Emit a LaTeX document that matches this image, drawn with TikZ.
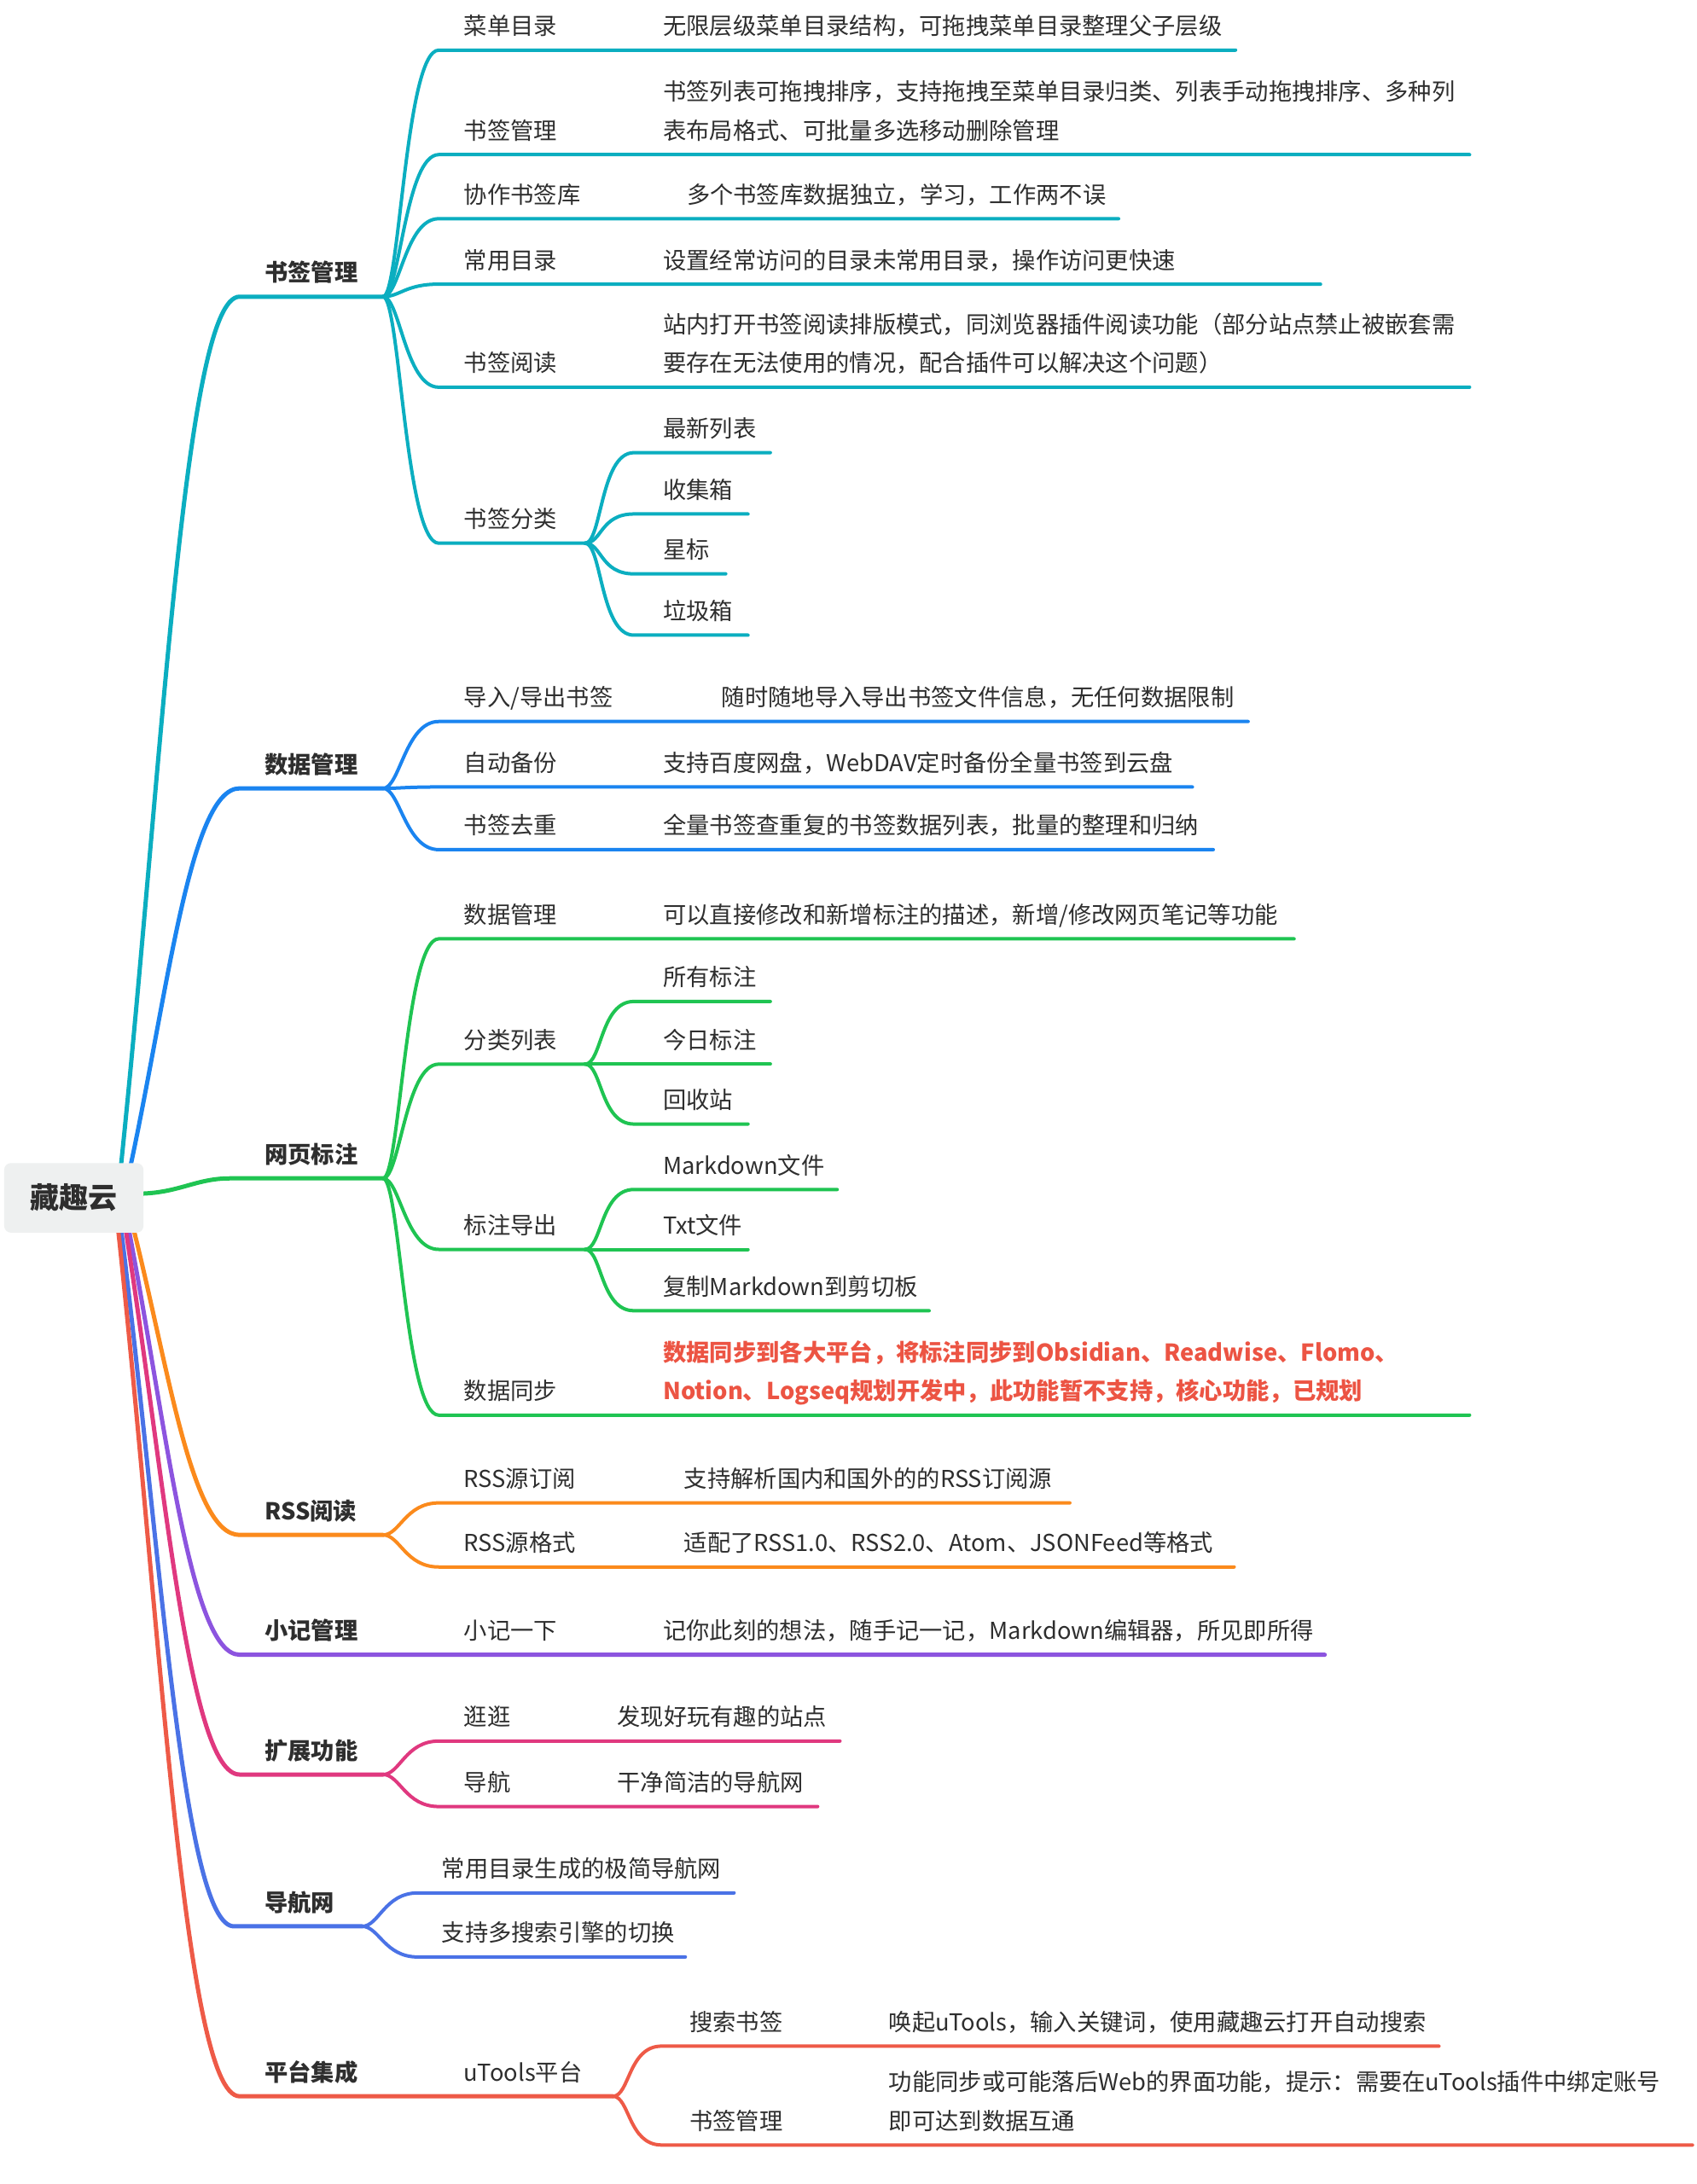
\documentclass[tikz,border=0pt]{standalone}
\usepackage{fontspec}
\setmainfont{Noto Sans CJK SC}
\usetikzlibrary{calc}
\definecolor{cTeal}{HTML}{0BAEC0}
\definecolor{cBlue}{HTML}{1A84F0}
\definecolor{cGreen}{HTML}{1FC452}
\definecolor{cOrange}{HTML}{FB8A1C}
\definecolor{cPurple}{HTML}{8C54DF}
\definecolor{cPink}{HTML}{E0387F}
\definecolor{cRoyal}{HTML}{4A72E6}
\definecolor{cRed}{HTML}{EE5A47}
\definecolor{txt}{HTML}{2E2E2E}
\definecolor{redtxt}{HTML}{EC5443}
\definecolor{rootfill}{HTML}{EEF0F0}
\newcommand\kid[4]{\draw[br,#1] (#2) .. controls ($(#2)+(12,0)$) and ($(#3)+(-24,0)$) .. (#3) -- (#4);}
\tikzset{
  lbl/.style={anchor=base west, inner sep=0pt, text=txt, font=\fontsize{27.3}{32}\selectfont},
  lone/.style={lbl, font=\fontsize{27.3}{32}\selectfont\bfseries},
  redl/.style={lbl, text=redtxt, font=\fontsize{27.3}{32}\selectfont\bfseries},
  br/.style={line width=4pt, line cap=round, line join=round},
  rootbr/.style={line width=5pt, line cap=round, line join=round},
}
\begin{document}
\begin{tikzpicture}[x=1.633pt,y=-1.633pt]
\useasboundingbox (0,0) rectangle (1218,1568);
\fill[white] (0,0) rectangle (1218,1568);

% ---------- coordinates ----------
\coordinate (r1) at (86,845);  \coordinate (L1s) at (172,213); \coordinate (h1) at (275,213);
\coordinate (r2) at (92,845);  \coordinate (L2s) at (172,566); \coordinate (h2) at (275,566);
\coordinate (r3) at (98,857);  \coordinate (L3s) at (165,846); \coordinate (h3) at (275,846);
\coordinate (r4) at (94,875);  \coordinate (L4s) at (172,1102); \coordinate (h4) at (275,1102);
\coordinate (r5) at (91,875);  \coordinate (L5s) at (172,1188); \coordinate (e5) at (951,1188);
\coordinate (r6) at (89,875);  \coordinate (L6s) at (172,1274); \coordinate (h6) at (275,1274);
\coordinate (r7) at (86,875);  \coordinate (L7s) at (168,1383); \coordinate (h7) at (260,1383);
\coordinate (r8) at (84,875);  \coordinate (L8s) at (172,1505); \coordinate (h8) at (440,1505);

% ---------- root branches ----------
\draw[rootbr,cTeal]   (r1) .. controls (116,560)  and (132,213)  .. (L1s) -- (h1);
\draw[rootbr,cBlue]   (r2) .. controls (120,717)  and (136,566)  .. (L2s) -- (h2);
\draw[rootbr,cGreen]  (r3) .. controls (128,857)  and (140,846)  .. (L3s) -- (h3);
\draw[rootbr,cOrange] (r4) .. controls (121,980)  and (137,1102) .. (L4s) -- (h4);
\draw[rootbr,cPurple] (r5) .. controls (119,1019) and (136,1188) .. (L5s) -- (e5);
\draw[rootbr,cPink]   (r6) .. controls (118,1057) and (135,1274) .. (L6s) -- (h6);
\draw[rootbr,cRoyal]  (r7) .. controls (115,1106) and (131,1383) .. (L7s) -- (h7);
\draw[rootbr,cRed]    (r8) .. controls (115,1161) and (132,1505) .. (L8s) -- (h8);

% ---------- root ----------
\node[fill=rootfill, rounded corners=8pt, minimum width=163.3pt, minimum height=81.6pt,
      inner sep=0pt, text=txt, font=\fontsize{34}{40}\selectfont\bfseries] (root) at (53,860) {藏趣云};

% ---------- 书签管理 ----------
\coordinate (a1s) at (315,36);  \coordinate (a1e) at (887,36);
\coordinate (a2s) at (315,111); \coordinate (a2e) at (1055,111);
\coordinate (a3s) at (315,157); \coordinate (a3e) at (803,157);
\coordinate (a4s) at (315,204); \coordinate (a4e) at (948,204);
\coordinate (a5s) at (315,278); \coordinate (a5e) at (1055,278);
\coordinate (a6s) at (315,390); \coordinate (h16) at (420,390);
\coordinate (a61s) at (455,325); \coordinate (a61e) at (553,325);
\coordinate (a62s) at (455,369); \coordinate (a62e) at (537,369);
\coordinate (a63s) at (455,412); \coordinate (a63e) at (521,412);
\coordinate (a64s) at (455,456); \coordinate (a64e) at (537,456);
\kid{cTeal}{h1}{a1s}{a1e}
\kid{cTeal}{h1}{a2s}{a2e}
\kid{cTeal}{h1}{a3s}{a3e}
\kid{cTeal}{h1}{a4s}{a4e}
\kid{cTeal}{h1}{a5s}{a5e}
\kid{cTeal}{h1}{a6s}{h16}
\kid{cTeal}{h16}{a61s}{a61e}
\kid{cTeal}{h16}{a62s}{a62e}
\kid{cTeal}{h16}{a63s}{a63e}
\kid{cTeal}{h16}{a64s}{a64e}

\node[lone] (l1) at (190,202) {书签管理};
\node[lbl] (n11) at (333,25) {菜单目录};
\node[lbl] (d11) at (476,25) {无限层级菜单目录结构，可拖拽菜单目录整理父子层级};
\node[lbl] (n12) at (333,100) {书签管理};
\node[lbl] (d12a) at (476,72) {书签列表可拖拽排序，支持拖拽至菜单目录归类、列表手动拖拽排序、多种列};
\node[lbl] (d12b) at (476,100) {表布局格式、可批量多选移动删除管理};
\node[lbl] (n13) at (333,146) {协作书签库};
\node[lbl] (d13) at (493,146) {多个书签库数据独立，学习，工作两不误};
\node[lbl] (n14) at (333,193) {常用目录};
\node[lbl] (d14) at (476,193) {设置经常访问的目录未常用目录，操作访问更快速};
\node[lbl] (n15) at (333,267) {书签阅读};
\node[lbl] (d15a) at (476,239) {站内打开书签阅读排版模式，同浏览器插件阅读功能（部分站点禁止被嵌套需};
\node[lbl] (d15b) at (476,267) {要存在无法使用的情况，配合插件可以解决这个问题）};
\node[lbl] (n16) at (333,379) {书签分类};
\node[lbl] (n161) at (476,314) {最新列表};
\node[lbl] (n162) at (476,358) {收集箱};
\node[lbl] (n163) at (476,401) {星标};
\node[lbl] (n164) at (476,445) {垃圾箱};

% ---------- 数据管理 ----------
\coordinate (b1s) at (315,518); \coordinate (b1e) at (896,518);
\coordinate (b2s) at (315,565); \coordinate (b2e) at (856,565);
\coordinate (b3s) at (315,610); \coordinate (b3e) at (871,610);
\kid{cBlue}{h2}{b1s}{b1e}
\kid{cBlue}{h2}{b2s}{b2e}
\kid{cBlue}{h2}{b3s}{b3e}
\node[lone] (l2) at (190,555) {数据管理};
\node[lbl] (n21) at (333,507) {导入/导出书签};
\node[lbl] (d21) at (518,507) {随时随地导入导出书签文件信息，无任何数据限制};
\node[lbl] (n22) at (333,554) {自动备份};
\node[lbl] (d22) at (476,554) {支持百度网盘，WebDAV定时备份全量书签到云盘};
\node[lbl] (n23) at (333,599) {书签去重};
\node[lbl] (d23) at (476,599) {全量书签查重复的书签数据列表，批量的整理和归纳};

% ---------- 网页标注 ----------
\coordinate (c1s) at (315,674); \coordinate (c1e) at (929,674);
\coordinate (c2s) at (315,764); \coordinate (h32) at (420,764);
\coordinate (c21s) at (455,719); \coordinate (c21e) at (553,719);
\coordinate (c22s) at (455,764); \coordinate (c22e) at (553,764);
\coordinate (c23s) at (455,807); \coordinate (c23e) at (537,807);
\coordinate (c3s) at (315,897); \coordinate (h33) at (420,897);
\coordinate (c31s) at (455,854); \coordinate (c31e) at (601,854);
\coordinate (c32s) at (455,897); \coordinate (c32e) at (537,897);
\coordinate (c33s) at (455,941); \coordinate (c33e) at (667,941);
\coordinate (c4s) at (315,1016); \coordinate (c4e) at (1055,1016);
\kid{cGreen}{h3}{c1s}{c1e}
\kid{cGreen}{h3}{c2s}{h32}
\kid{cGreen}{h32}{c21s}{c21e}
\kid{cGreen}{h32}{c22s}{c22e}
\kid{cGreen}{h32}{c23s}{c23e}
\kid{cGreen}{h3}{c3s}{h33}
\kid{cGreen}{h33}{c31s}{c31e}
\kid{cGreen}{h33}{c32s}{c32e}
\kid{cGreen}{h33}{c33s}{c33e}
\kid{cGreen}{h3}{c4s}{c4e}
\node[lone] (l3) at (190,835) {网页标注};
\node[lbl] (n31) at (333,663) {数据管理};
\node[lbl] (d31) at (476,663) {可以直接修改和新增标注的描述，新增/修改网页笔记等功能};
\node[lbl] (n32) at (333,753) {分类列表};
\node[lbl] (n321) at (476,708) {所有标注};
\node[lbl] (n322) at (476,753) {今日标注};
\node[lbl] (n323) at (476,796) {回收站};
\node[lbl] (n33) at (333,886) {标注导出};
\node[lbl] (n331) at (476,843) {Markdown文件};
\node[lbl] (n332) at (476,886) {Txt文件};
\node[lbl] (n333) at (476,930) {复制Markdown到剪切板};
\node[lbl] (n34) at (333,1005) {数据同步};
\node[redl] (d34a) at (476,977) {数据同步到各大平台，将标注同步到Obsidian、Readwise、Flomo、};
\node[redl] (d34b) at (476,1005) {Notion、Logseq规划开发中，此功能暂不支持，核心功能，已规划};

% ---------- RSS阅读 ----------
\coordinate (d1s) at (315,1079); \coordinate (d1e) at (768,1079);
\coordinate (d2s) at (315,1125); \coordinate (d2e) at (886,1125);
\kid{cOrange}{h4}{d1s}{d1e}
\kid{cOrange}{h4}{d2s}{d2e}
\node[lone] (l4) at (190,1091) {RSS阅读};
\node[lbl] (n41) at (333,1068) {RSS源订阅};
\node[lbl] (d41) at (491,1068) {支持解析国内和国外的的RSS订阅源};
\node[lbl] (n42) at (333,1114) {RSS源格式};
\node[lbl] (d42) at (491,1114) {适配了RSS1.0、RSS2.0、Atom、JSONFeed等格式};

% ---------- 小记管理 ----------
\node[lone] (l5) at (190,1177) {小记管理};
\node[lbl] (n51) at (333,1177) {小记一下};
\node[lbl] (d51) at (476,1177) {记你此刻的想法，随手记一记，Markdown编辑器，所见即所得};

% ---------- 扩展功能 ----------
\coordinate (f1s) at (315,1250); \coordinate (f1e) at (603,1250);
\coordinate (f2s) at (315,1297); \coordinate (f2e) at (587,1297);
\kid{cPink}{h6}{f1s}{f1e}
\kid{cPink}{h6}{f2s}{f2e}
\node[lone] (l6) at (190,1263) {扩展功能};
\node[lbl] (n61) at (333,1239) {逛逛};
\node[lbl] (d61) at (443,1239) {发现好玩有趣的站点};
\node[lbl] (n62) at (333,1286) {导航};
\node[lbl] (d62) at (443,1286) {干净简洁的导航网};

% ---------- 导航网 ----------
\coordinate (g1s) at (300,1359); \coordinate (g1e) at (527,1359);
\coordinate (g2s) at (300,1405); \coordinate (g2e) at (492,1405);
\kid{cRoyal}{h7}{g1s}{g1e}
\kid{cRoyal}{h7}{g2s}{g2e}
\node[lone] (l7) at (190,1372) {导航网};
\node[lbl] (n71) at (317,1348) {常用目录生成的极简导航网};
\node[lbl] (n72) at (317,1394) {支持多搜索引擎的切换};

% ---------- 平台集成 ----------
\coordinate (p1s) at (475,1469); \coordinate (p1e) at (1033,1469);
\coordinate (p2s) at (475,1540); \coordinate (p2e) at (1215,1540);
\kid{cRed}{h8}{p1s}{p1e}
\kid{cRed}{h8}{p2s}{p2e}
\node[lone] (l8) at (190,1494) {平台集成};
\node[lbl] (n81) at (333,1494) {uTools平台};
\node[lbl] (n811) at (495,1458) {搜索书签};
\node[lbl] (d811) at (638,1458) {唤起uTools，输入关键词，使用藏趣云打开自动搜索};
\node[lbl] (n812) at (495,1529) {书签管理};
\node[lbl] (d812a) at (638,1501) {功能同步或可能落后Web的界面功能，提示：需要在uTools插件中绑定账号};
\node[lbl] (d812b) at (638,1529) {即可达到数据互通};
\end{tikzpicture}
\end{document}
